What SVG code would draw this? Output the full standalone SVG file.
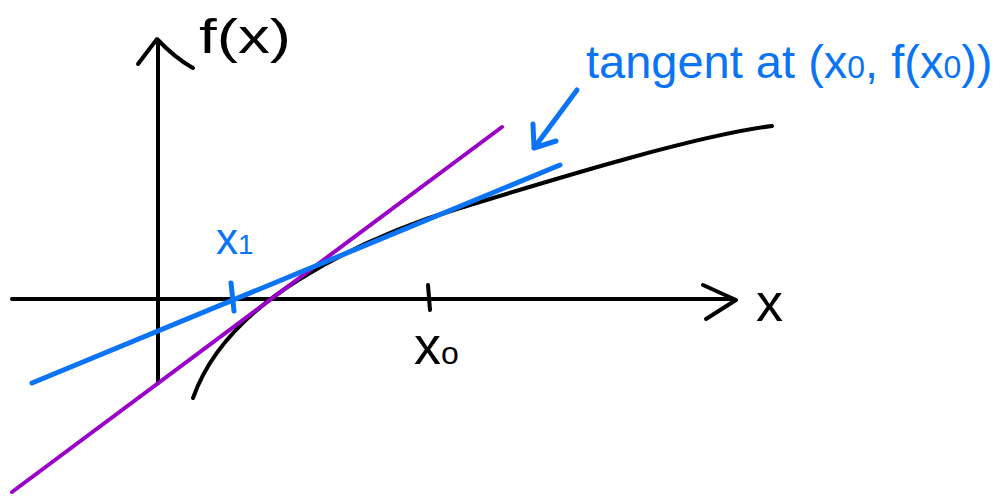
<svg xmlns="http://www.w3.org/2000/svg" width="1003" height="499" viewBox="0 0 1003 499">
<style>
.k{stroke:#000;fill:none;stroke-width:4;stroke-linecap:round;stroke-linejoin:round}
.b{stroke:#0a74f5;fill:none;stroke-width:5;stroke-linecap:round;stroke-linejoin:round}
.p{stroke:#9a00c8;fill:none;stroke-width:4;stroke-linecap:round}
.t{font-family:"Liberation Sans",Arial,sans-serif}
.tb{fill:#0a74f5}
.tk{fill:#000}
</style>
<rect width="1003" height="499" fill="#fff"/>
<g id="axes">
<path class="k" d="M12 299 L733 299"/>
<path class="k" d="M703 285 L736 300 L706 319" stroke-width="5"/>
<path class="k" d="M158 383 L158 42"/>
<path class="k" d="M138 64 L157 39 Q175 58 193 68" stroke-width="5"/>
<path class="k" d="M428 285 L430 310" stroke-width="3.5"/>
</g>
<g id="curve">
<path class="k" d="M193 398 C210 350 250 310 300 279 C350 248 400 226 460 208 C520 190 690 136 772 126"/>
</g>
<g id="secant">
<path class="p" d="M12 492 L502 127"/>
</g>
<g id="tangent">
<path class="b" d="M32 383 L560 165"/>
<path class="b" d="M231 283 L234 311" stroke-width="4"/>
</g>
<g id="connectors">
<path class="b" d="M577 90 L534 148 M533 124 L534 148 L556 141" stroke-width="4"/>
</g>
<g id="labels">
<text class="t tk" x="199" y="53" font-size="48" textLength="92" lengthAdjust="spacingAndGlyphs">f(x)</text>
<text class="t tk" x="756" y="321" font-size="54">x</text>
<text class="t tk" x="414" y="364" font-size="54">x<tspan font-size="32">o</tspan></text>
<text class="t tb" x="216" y="254" font-size="44">x<tspan font-size="28">1</tspan></text>
<text class="t tb" x="586" y="78" font-size="47">tangent at (x<tspan font-size="32">0</tspan>, f(x<tspan font-size="32">0</tspan>))</text>
</g>
</svg>
